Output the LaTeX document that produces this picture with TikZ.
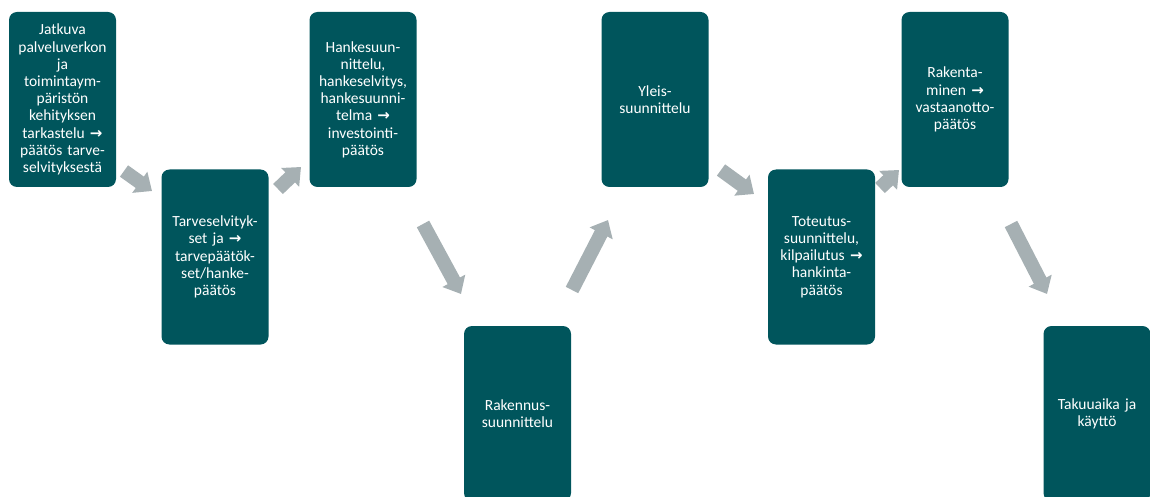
\documentclass[tikz,border=0pt]{standalone}
\usepackage{fontspec}
\setmainfont{Carlito}
\newfontfamily\arrowfont{DejaVu Sans}
\usetikzlibrary{arrows.meta}

\definecolor{phaseteal}{RGB}{0,85,92}
\definecolor{flowgray}{RGB}{166,176,179}

\newcommand{\ra}{{\arrowfont\bfseries\fontsize{15pt}{17pt}\selectfont →}}

\begin{document}
\begin{tikzpicture}[
    x=1pt, y=-1pt,
    phase/.style={rectangle, rounded corners=8pt, fill=phaseteal, text=white,
        minimum width=107pt, minimum height=175pt, text width=104pt, inner sep=0pt,
        align=center, font=\fontsize{15.5pt}{17.2pt}\selectfont},
    flow/.style={draw=flowgray, line width=14pt,
        -{Triangle[width=25pt, length=15pt]}, fill=flowgray}
]
\useasboundingbox (0,0) rectangle (1150,497);

% Phases
\node[phase] (needs) at (62.5,99.5) {Jatkuva\\palveluverkon\\ja\\toimintaym-\\päristön\\kehityksen\\tarkastelu \ra\\päätös tarve-\\selvityksestä};
\node[phase] (reqs) at (215,257) {Tarveselvityk-\\set ja \ra\\tarvepäätök-\\set/hanke-\\päätös};
\node[phase] (project) at (363,99.5) {Hankesuun-\\nittelu,\\hankeselvitys,\\hankesuunni-\\telma \ra\\investointi-\\päätös};
\node[phase] (building) at (517.5,413.5) {Rakennus-\\suunnittelu};
\node[phase] (general) at (655,99.5) {Yleis-\\suunnittelu};
\node[phase] (implement) at (821.5,257) {Toteutus-\\suunnittelu,\\kilpailutus \ra\\hankinta-\\päätös};
\node[phase] (construct) at (955,99.5) {Rakenta-\\minen \ra\\vastaanotto-\\päätös};
\node[phase] (warranty) at (1097,413.5) {Takuuaika ja\\käyttö};

% Arrow ends
\coordinate (a1s) at (124,171);  \coordinate (a1e) at (152,191);
\coordinate (a2s) at (278,189);  \coordinate (a2e) at (301,167);
\coordinate (a3s) at (423,224);  \coordinate (a3e) at (461,294);
\coordinate (a4s) at (572,290);  \coordinate (a4e) at (608,220);
\coordinate (a5s) at (721,170);  \coordinate (a5e) at (754,194);
\coordinate (a6s) at (880,188);  \coordinate (a6e) at (899,170);
\coordinate (a7s) at (1011,224); \coordinate (a7e) at (1047,294);

% Arrows
\draw[flow] (a1s) -- (a1e);
\draw[flow] (a2s) -- (a2e);
\draw[flow] (a3s) -- (a3e);
\draw[flow] (a4s) -- (a4e);
\draw[flow] (a5s) -- (a5e);
\draw[flow] (a6s) -- (a6e);
\draw[flow] (a7s) -- (a7e);

\end{tikzpicture}
\end{document}
